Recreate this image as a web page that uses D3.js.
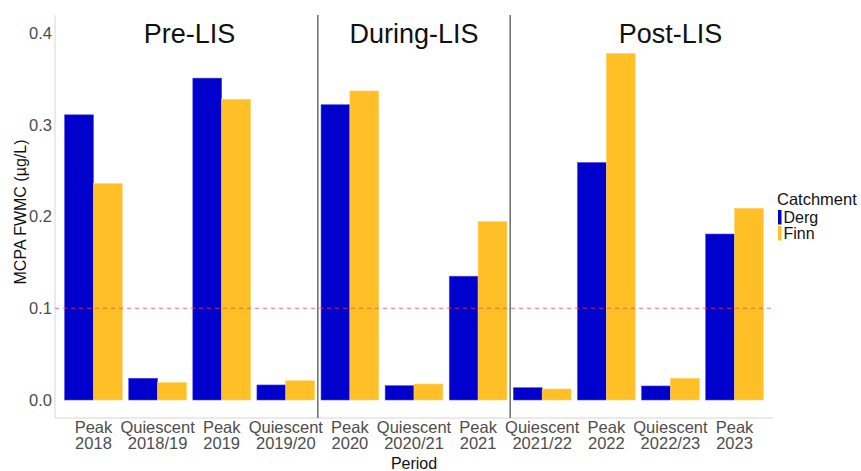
<!DOCTYPE html>
<html>
<head>
<meta charset="utf-8">
<script src="https://cdn.jsdelivr.net/npm/d3@7"></script>
<style>
  body { margin: 0; background: #fff; }
  svg { display: block; font-family: "Liberation Sans", Arial, sans-serif; }
</style>
</head>
<body>
<svg id="chart" width="861" height="471"></svg>
<script>
const categories = ["Peak\n2018", "Quiescent\n2018/19", "Peak\n2019", "Quiescent\n2019/20",
  "Peak\n2020", "Quiescent\n2020/21", "Peak\n2021",
  "Quiescent\n2021/22", "Peak\n2022", "Quiescent\n2022/23", "Peak\n2023"];
const catchments = ["Derg", "Finn"];
const dergValues = [0.311, 0.0237, 0.351, 0.0164, 0.322, 0.0156, 0.135, 0.0134, 0.259, 0.0153, 0.181];
const finnValues = [0.236, 0.019, 0.328, 0.021, 0.337, 0.0174, 0.1945, 0.012, 0.378, 0.0237, 0.209];
const yTicks = [0.0, 0.1, 0.2, 0.3, 0.4];
const phases = [
  { label: "Pre-LIS", from: 0, to: 3 },
  { label: "During-LIS", from: 4, to: 6 },
  { label: "Post-LIS", from: 9, to: 9 }
];
const separatorsAfter = [3, 6];
const threshold = 0.1;
const colors = { Derg: "#0000CD", Finn: "#FFBF26" };

const svg = d3.select("#chart");
const panel = { left: 55, right: 773, top: 15, bottom: 418 };
const tickFont = 16.5;

const x = d3.scaleBand().domain(categories).range([panel.left, panel.right])
  .paddingInner(0.1).paddingOuter(0.15);
const xSub = d3.scaleBand().domain(catchments).range([0, x.bandwidth()]);
const y = d3.scaleLinear().domain([0, 0.42]).range([400, 400 - 0.42 * 917]);

const rows = categories.map((c, i) => ({ cat: c, Derg: dergValues[i], Finn: finnValues[i] }));

// axis lines
svg.append("line").attr("x1", panel.left).attr("x2", panel.left)
  .attr("y1", panel.top).attr("y2", panel.bottom).attr("stroke", "#d6d6d6").attr("stroke-width", 1);
svg.append("line").attr("x1", panel.left).attr("x2", panel.right)
  .attr("y1", panel.bottom).attr("y2", panel.bottom).attr("stroke", "#d6d6d6").attr("stroke-width", 1.2);

// bars
const g = svg.append("g");
rows.forEach(r => {
  catchments.forEach(k => {
    g.append("rect")
      .attr("x", x(r.cat) + xSub(k))
      .attr("width", xSub.bandwidth())
      .attr("y", y(r[k]))
      .attr("height", y(0) - y(r[k]))
      .attr("fill", colors[k])
      .attr("stroke", k === "Derg" ? "#4a4ae0" : "#ffd36a")
      .attr("stroke-width", 0.6);
  });
});

// threshold line
svg.append("line").attr("x1", panel.left).attr("x2", panel.right)
  .attr("y1", y(threshold)).attr("y2", y(threshold))
  .attr("stroke", "#ff4040").attr("stroke-opacity", 0.75)
  .attr("stroke-width", 1.1).attr("stroke-dasharray", "4,4");

// separators
const centers = categories.map(c => x(c) + x.bandwidth() / 2);
separatorsAfter.forEach(i => {
  const sx = (centers[i] + centers[i + 1]) / 2;
  svg.append("line").attr("x1", sx).attr("x2", sx)
    .attr("y1", panel.top).attr("y2", panel.bottom)
    .attr("stroke", "#555").attr("stroke-width", 1.3);
});

// phase labels
phases.forEach(p => {
  svg.append("text")
    .attr("x", (centers[p.from] + centers[p.to]) / 2)
    .attr("y", 43)
    .attr("text-anchor", "middle")
    .attr("font-size", 27)
    .attr("fill", "#111")
    .text(p.label);
});

// y ticks
const yAxis = d3.axisLeft(y).tickValues(yTicks).tickFormat(d3.format(".1f")).tickSize(0).tickPadding(3);
const ya = svg.append("g").attr("transform", `translate(${panel.left},0)`).call(yAxis);
ya.select(".domain").remove();
ya.selectAll("text").attr("font-size", tickFont).attr("fill", "#4d4d4d")
  .attr("font-family", "Liberation Sans, Arial, sans-serif");

// x ticks
const xAxis = d3.axisBottom(x).tickSize(0).tickFormat("");
const xa = svg.append("g").attr("transform", `translate(0,${panel.bottom})`).call(xAxis);
xa.select(".domain").remove();
xa.selectAll(".tick").each(function(d) {
  const t = d3.select(this).append("text")
    .attr("text-anchor", "middle").attr("fill", "#4d4d4d")
    .attr("font-size", tickFont)
    .attr("font-family", "Liberation Sans, Arial, sans-serif");
  d.split("\n").forEach((line, i) => {
    t.append("tspan").attr("x", 0).attr("y", 14.5 + i * 16.5).text(line);
  });
});

// axis titles
svg.append("text").attr("x", (panel.left + panel.right) / 2).attr("y", 469)
  .attr("text-anchor", "middle").attr("font-size", 16).attr("fill", "#111").text("Period");
svg.append("text").attr("transform", "translate(26,212) rotate(-90)")
  .attr("text-anchor", "middle").attr("font-size", 16).attr("fill", "#111").text("MCPA FWMC (µg/L)");

// legend
const lg = svg.append("g").attr("transform", "translate(777,0)");
lg.append("text").attr("x", 0).attr("y", 205).attr("font-size", 16.5).attr("fill", "#111").text("Catchment");
catchments.forEach((k, i) => {
  lg.append("rect").attr("x", 1).attr("y", 210 + i * 16).attr("width", 3.5).attr("height", 14.5)
    .attr("fill", colors[k]);
  lg.append("text").attr("x", 6.5).attr("y", 223 + i * 16).attr("font-size", 16)
    .attr("fill", "#111").text(k);
});
</script>
</body>
</html>
